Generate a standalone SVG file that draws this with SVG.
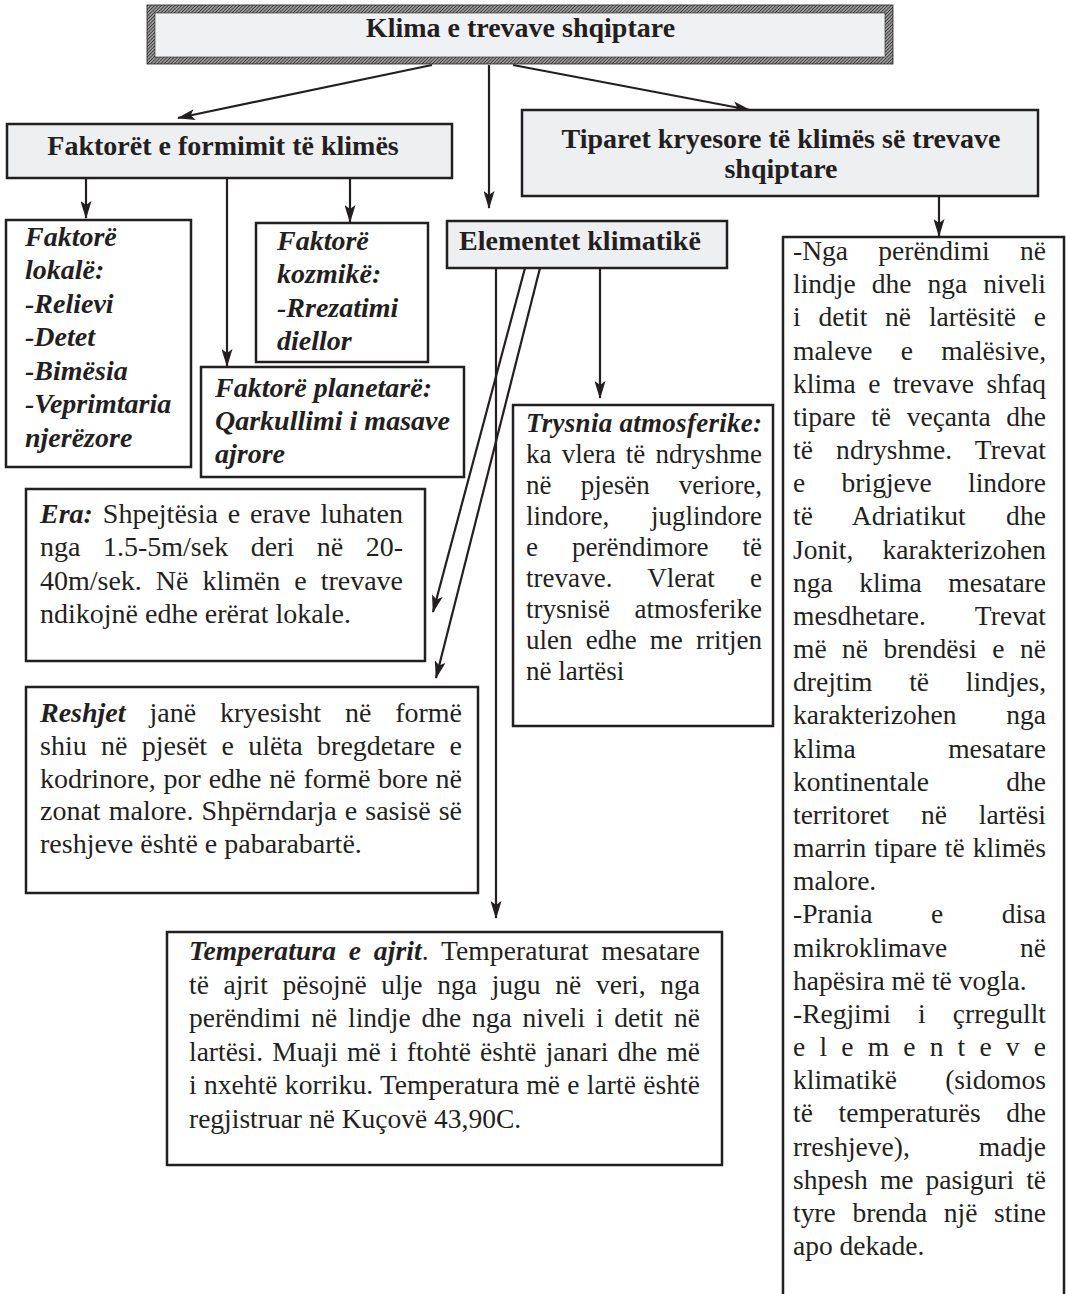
<svg xmlns="http://www.w3.org/2000/svg" width="1066" height="1294" viewBox="0 0 1066 1294">
<defs>
<style>
text{font-family:"Liberation Serif","Times New Roman",serif;fill:#231f20;font-size:28px}
.b{font-weight:bold}
.bi{font-weight:bold;font-style:italic}
.s27{font-size:27px}
.s275{font-size:27.5px}
.box{fill:#ffffff;stroke:#231f20;stroke-width:2.5}
.hbox{fill:#eeeff1;stroke:#231f20;stroke-width:2.5}
.con{stroke:#231f20;stroke-width:2.2;fill:none;marker-end:url(#ah)}
</style>
<marker id="ah" viewBox="0 0 18 11" refX="17" refY="5.5" markerWidth="18" markerHeight="11" markerUnits="userSpaceOnUse" orient="auto">
<path d="M0,0 L18,5.5 L0,11 L4,5.5 z" fill="#231f20"/>
</marker>
<pattern id="hatch" width="2.4" height="2.4" patternUnits="userSpaceOnUse" patternTransform="rotate(45)">
<rect width="2.4" height="2.4" fill="#9c9c9c"/>
<line x1="0" y1="0" x2="0" y2="2.4" stroke="#231f20" stroke-width="1.3"/>
</pattern>
</defs>
<rect width="1066" height="1294" fill="#ffffff"/>

<g id="connectors">
<line class="con" x1="432" y1="65" x2="178" y2="118"/>
<line class="con" x1="489" y1="65" x2="489" y2="208"/>
<line class="con" x1="513" y1="65" x2="750" y2="110"/>
<line class="con" x1="86" y1="178" x2="86" y2="218"/>
<line class="con" x1="227" y1="178" x2="227" y2="366"/>
<line class="con" x1="350" y1="178" x2="350" y2="222"/>
<line class="con" x1="939" y1="196" x2="939" y2="236"/>
<line class="con" x1="496" y1="268" x2="496" y2="918"/>
<line class="con" x1="525" y1="268" x2="433" y2="612"/>
<line class="con" x1="540" y1="268" x2="436" y2="678"/>
<line class="con" x1="600" y1="268" x2="600" y2="398"/>
</g>

<g id="title">
<rect x="147" y="5" width="746" height="59" fill="url(#hatch)" stroke="#231f20" stroke-width="0.8"/>
<rect x="155" y="13" width="730" height="44" fill="#f0f1f3" stroke="#231f20" stroke-width="0.6"/>
<text class="b" x="520.5" y="37" text-anchor="middle">Klima e trevave shqiptare</text>
</g>

<g id="faktoret">
<rect class="hbox" x="7" y="124" width="445" height="54"/>
<text class="b" x="223" y="155" text-anchor="middle">Faktorët e formimit të klimës</text>
</g>

<g id="tiparet">
<rect class="hbox" x="522" y="110" width="516" height="86"/>
<text class="b" x="781" y="148" text-anchor="middle">Tiparet kryesore të klimës së trevave</text>
<text class="b" x="781" y="178" text-anchor="middle">shqiptare</text>
</g>

<g id="lokale">
<rect class="box" x="6" y="220" width="185" height="247"/>
<text class="bi" x="25" y="246">Faktorë</text>
<text class="bi" x="25" y="279">lokalë:</text>
<text class="bi" x="25" y="313">-Relievi</text>
<text class="bi" x="25" y="346">-Detet</text>
<text class="bi" x="25" y="380">-Bimësia</text>
<text class="bi" x="25" y="413">-Veprimtaria</text>
<text class="bi" x="25" y="447">njerëzore</text>
</g>

<g id="kozmike">
<rect class="box" x="256" y="223" width="172" height="139"/>
<text class="bi" x="277" y="250">Faktorë</text>
<text class="bi" x="277" y="283">kozmikë:</text>
<text class="bi" x="277" y="317">-Rrezatimi</text>
<text class="bi" x="277" y="350">diellor</text>
</g>

<g id="planetare">
<rect class="box" x="201" y="367" width="263" height="110"/>
<text class="bi" x="215" y="397">Faktorë planetarë:</text>
<text class="bi" x="215" y="430">Qarkullimi i masave</text>
<text class="bi" x="215" y="463">ajrore</text>
</g>

<g id="elementet">
<rect class="hbox" x="447" y="221" width="280" height="47"/>
<text class="b" x="459" y="250">Elementet klimatikë</text>
</g>

<g id="trysnia">
<rect class="box" x="513" y="405" width="260" height="321"/>
<text class="bi s27" x="526" y="432" textLength="236" lengthAdjust="spacing">Trysnia atmosferike:</text>
<text class="s27" x="526" y="463" textLength="236" lengthAdjust="spacing" style="word-spacing:3.45px">ka vlera të ndryshme</text>
<text class="s27" x="526" y="494" textLength="236" lengthAdjust="spacing" style="word-spacing:22.4px">në pjesën veriore,</text>
<text class="s27" x="526" y="525" textLength="236" lengthAdjust="spacing" style="word-spacing:35px">lindore, juglindore</text>
<text class="s27" x="526" y="556" textLength="236" lengthAdjust="spacing" style="word-spacing:27.3px">e perëndimore të</text>
<text class="s27" x="526" y="587" textLength="236" lengthAdjust="spacing" style="word-spacing:28.4px">trevave. Vlerat e</text>
<text class="s27" x="526" y="618" textLength="236" lengthAdjust="spacing" style="word-spacing:17.8px">trysnisë atmosferike</text>
<text class="s27" x="526" y="649" textLength="236" lengthAdjust="spacing" style="word-spacing:6.4px">ulen edhe me rritjen</text>
<text class="s27" x="526" y="680">në lartësi</text>
</g>

<g id="era">
<rect class="box" x="26" y="489" width="399" height="172"/>
<text class="bi" x="40" y="523">Era:</text>
<text x="102.8" y="523" textLength="300.2" lengthAdjust="spacing" style="word-spacing:2.8px">Shpejtësia e erave luhaten</text>
<text x="40" y="556.3" textLength="363" lengthAdjust="spacing" style="word-spacing:15.5px">nga 1.5-5m/sek deri në 20-</text>
<text x="40" y="589.6" textLength="363" lengthAdjust="spacing" style="word-spacing:7px">40m/sek. Në klimën e trevave</text>
<text x="40" y="623">ndikojnë edhe erërat lokale.</text>
</g>

<g id="reshjet">
<rect class="box" x="26" y="687" width="452" height="206"/>
<text class="bi" x="40" y="722">Reshjet</text>
<text x="149.5" y="722" textLength="312.5" lengthAdjust="spacing" style="word-spacing:16.85px">janë kryesisht në formë</text>
<text x="40" y="755" textLength="422" lengthAdjust="spacing" style="word-spacing:7.35px">shiu në pjesët e ulëta bregdetare e</text>
<text x="40" y="788" textLength="422" lengthAdjust="spacing" style="word-spacing:0.75px">kodrinore, por edhe në formë bore në</text>
<text x="40" y="820" textLength="422" lengthAdjust="spacing" style="word-spacing:1.04px">zonat malore. Shpërndarja e sasisë së</text>
<text x="40" y="853">reshjeve është e pabarabartë.</text>
</g>

<g id="temperatura">
<rect class="box" x="167" y="932" width="555" height="233"/>
<text class="s275" x="189" y="960" textLength="511" lengthAdjust="spacing" style="word-spacing:5.7px"><tspan class="bi">Temperatura e ajrit</tspan>. Temperaturat mesatare</text>
<text class="s275" x="189" y="993.5" textLength="511" lengthAdjust="spacing" style="word-spacing:7.8px">të ajrit pësojnë ulje nga jugu në veri, nga</text>
<text class="s275" x="189" y="1027" textLength="511" lengthAdjust="spacing" style="word-spacing:3.9px">perëndimi në lindje dhe nga niveli i detit në</text>
<text class="s275" x="189" y="1060.5" textLength="511" lengthAdjust="spacing" style="word-spacing:2.3px">lartësi. Muaji më i ftohtë është janari dhe më</text>
<text class="s275" x="189" y="1094" textLength="511" lengthAdjust="spacing" style="word-spacing:0.3px">i nxehtë korriku. Temperatura më e lartë është</text>
<text class="s275" x="189" y="1127.5">regjistruar në Kuçovë 43,90C.</text>
</g>

<g id="tiparet-tekst">
<rect class="box" x="783" y="237" width="281" height="1075"/>
<text class="s275" x="793" y="260" textLength="253" lengthAdjust="spacing" style="word-spacing:23.4px">-Nga perëndimi në</text>
<text class="s275" x="793" y="293.2" textLength="253" lengthAdjust="spacing" style="word-spacing:9.2px">lindje dhe nga niveli</text>
<text class="s275" x="793" y="326.3" textLength="253" lengthAdjust="spacing" style="word-spacing:10.9px">i detit në lartësitë e</text>
<text class="s275" x="793" y="359.5" textLength="253" lengthAdjust="spacing" style="word-spacing:21.5px">maleve e malësive,</text>
<text class="s275" x="793" y="392.7" textLength="253" lengthAdjust="spacing" style="word-spacing:5.7px">klima e trevave shfaq</text>
<text class="s275" x="793" y="425.9" textLength="253" lengthAdjust="spacing" style="word-spacing:8.7px">tipare të veçanta dhe</text>
<text class="s275" x="793" y="459" textLength="253" lengthAdjust="spacing" style="word-spacing:16.1px">të ndryshme. Trevat</text>
<text class="s275" x="793" y="492.2" textLength="253" lengthAdjust="spacing" style="word-spacing:29.5px">e brigjeve lindore</text>
<text class="s275" x="793" y="525.4" textLength="253" lengthAdjust="spacing" style="word-spacing:33.3px">të Adriatikut dhe</text>
<text class="s275" x="793" y="558.5" textLength="253" lengthAdjust="spacing" style="word-spacing:22.3px">Jonit, karakterizohen</text>
<text class="s275" x="793" y="591.7" textLength="253" lengthAdjust="spacing" style="word-spacing:19.6px">nga klima mesatare</text>
<text class="s275" x="793" y="624.9" textLength="253" lengthAdjust="spacing" style="word-spacing:42.2px">mesdhetare. Trevat</text>
<text class="s275" x="793" y="658" textLength="253" lengthAdjust="spacing" style="word-spacing:8.6px">më në brendësi e në</text>
<text class="s275" x="793" y="691.2" textLength="253" lengthAdjust="spacing" style="word-spacing:29.9px">drejtim të lindjes,</text>
<text class="s275" x="793" y="724.4" textLength="253" lengthAdjust="spacing" style="word-spacing:43px">karakterizohen nga</text>
<text class="s275" x="793" y="757.6" textLength="253" lengthAdjust="spacing" style="word-spacing:85.7px">klima mesatare</text>
<text class="s275" x="793" y="790.7" textLength="253" lengthAdjust="spacing" style="word-spacing:70.4px">kontinentale dhe</text>
<text class="s275" x="793" y="823.9" textLength="253" lengthAdjust="spacing" style="word-spacing:24.9px">territoret në lartësi</text>
<text class="s275" x="793" y="857.1" textLength="253" lengthAdjust="spacing" style="word-spacing:1.1px">marrin tipare të klimës</text>
<text class="s275" x="793" y="890.2">malore.</text>
<text class="s275" x="793" y="923.4" textLength="253" lengthAdjust="spacing" style="word-spacing:51.7px">-Prania e disa</text>
<text class="s275" x="793" y="956.6" textLength="253" lengthAdjust="spacing" style="word-spacing:65.9px">mikroklimave në</text>
<text class="s275" x="793" y="989.7">hapësira më të vogla.</text>
<text class="s275" x="793" y="1022.9" textLength="253" lengthAdjust="spacing" style="word-spacing:20.3px">-Regjimi i çrregullt</text>
<text class="s275" x="793" y="1056.1" textLength="253" lengthAdjust="spacing">elementeve</text>
<text class="s275" x="793" y="1089.3" textLength="253" lengthAdjust="spacing" style="word-spacing:41.4px">klimatikë (sidomos</text>
<text class="s275" x="793" y="1122.4" textLength="253" lengthAdjust="spacing" style="word-spacing:18.8px">të temperaturës dhe</text>
<text class="s275" x="793" y="1155.6" textLength="253" lengthAdjust="spacing" style="word-spacing:62.1px">rreshjeve), madje</text>
<text class="s275" x="793" y="1188.8" textLength="253" lengthAdjust="spacing" style="word-spacing:5.2px">shpesh me pasiguri të</text>
<text class="s275" x="793" y="1221.9" textLength="253" lengthAdjust="spacing" style="word-spacing:9.8px">tyre brenda një stine</text>
<text class="s275" x="793" y="1255.1">apo dekade.</text>
</g>
</svg>
